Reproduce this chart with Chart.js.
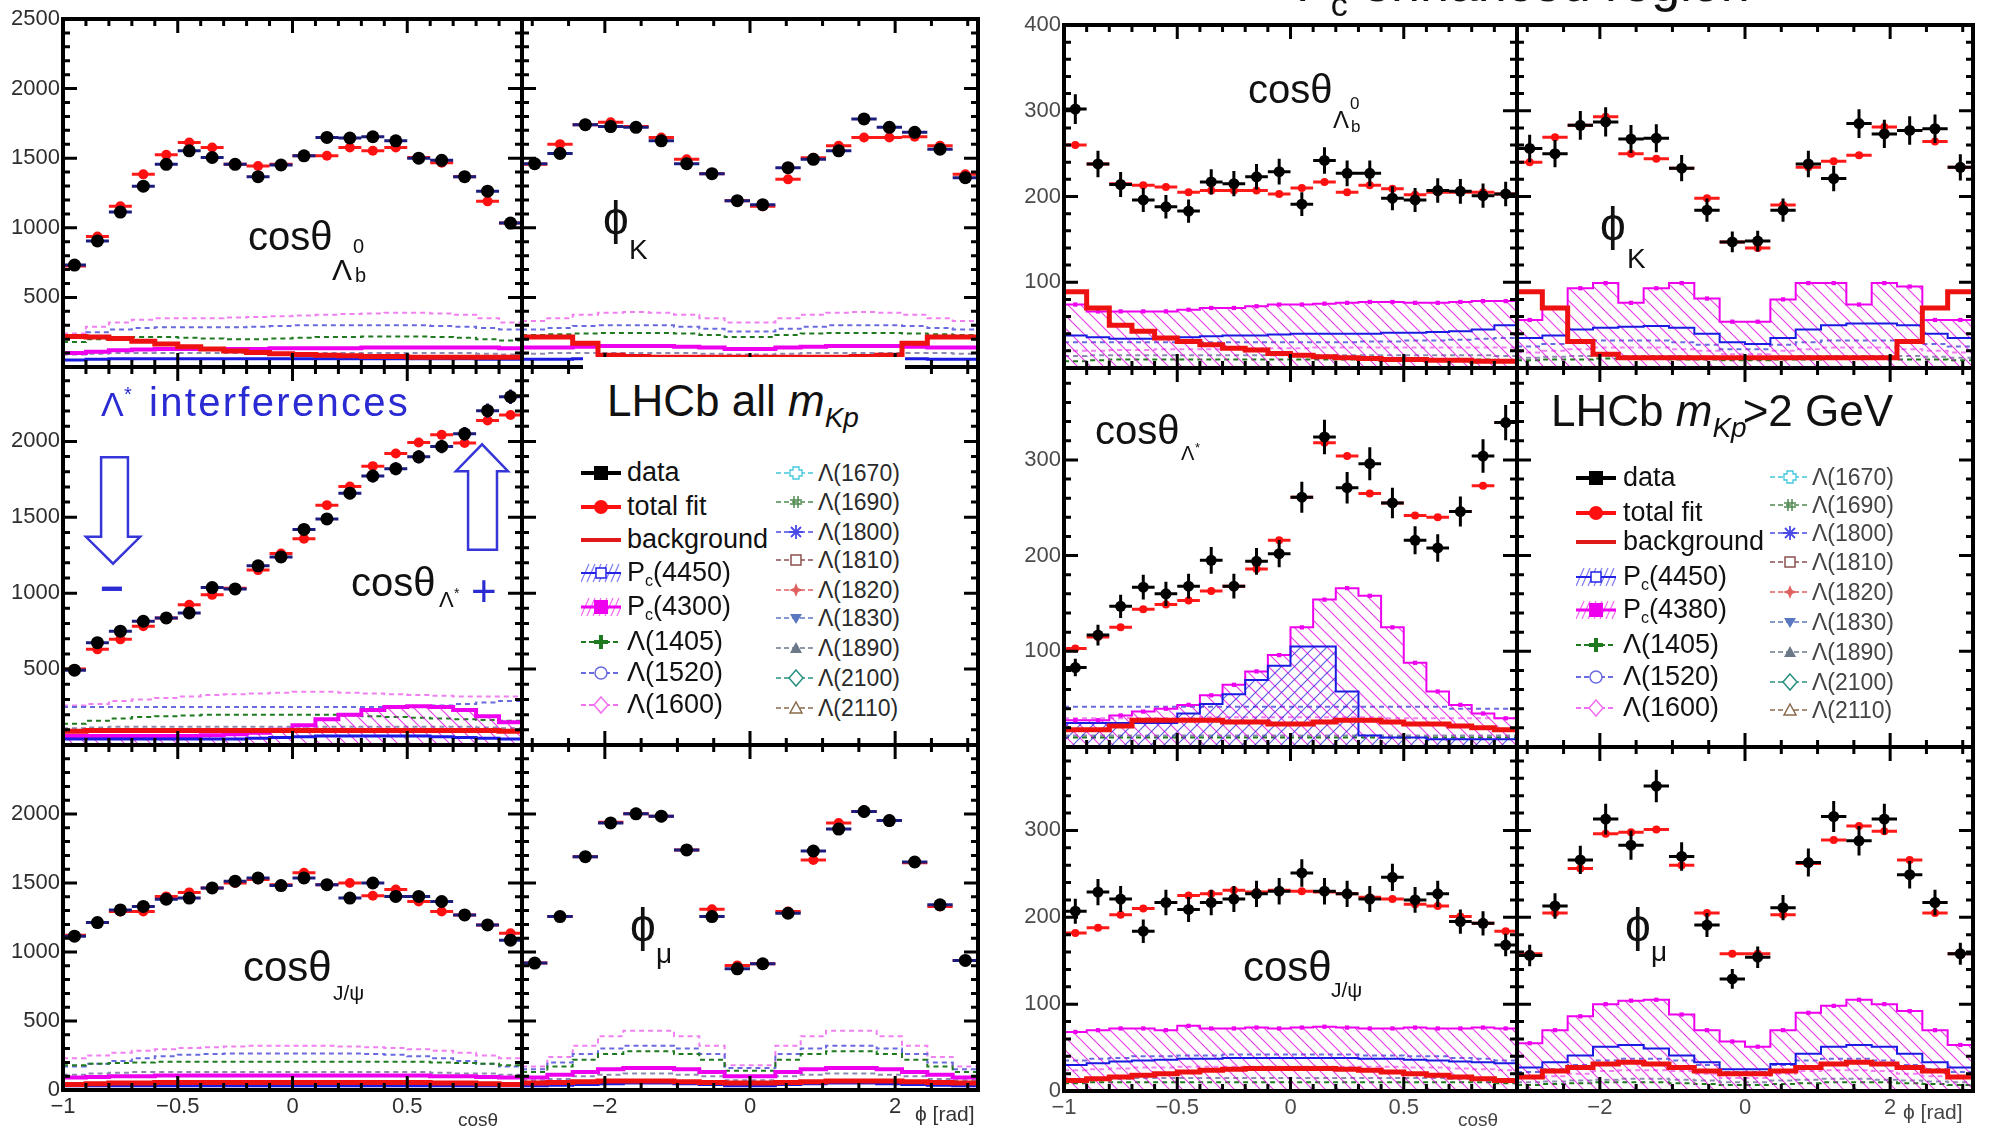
<!DOCTYPE html>
<html>
<head>
<meta charset="utf-8">
<script src="https://cdn.jsdelivr.net/npm/chart.js@4.4.0/dist/chart.umd.min.js"></script>
<style>
html, body { margin: 0; padding: 0; background: #fff; overflow: hidden; }
#fig { position: relative; width: 1993px; height: 1128px; overflow: hidden; background: #fff; }
#fig canvas { position: absolute; }
.t { position: absolute; line-height: 1; white-space: nowrap; font-family: 'Liberation Sans', Arial, 'DejaVu Sans', sans-serif; color: #111; }
.dn { position: relative; }
.box { position: absolute; background: #fff; }
</style>
</head>
<body>
<div id="fig"></div>
<script>
// bin centres and axis labels
const cosCenters = [-0.95,-0.85,-0.75,-0.65,-0.55,-0.45,-0.35,-0.25,-0.15,-0.05,0.05,0.15,0.25,0.35,0.45,0.55,0.65,0.75,0.85,0.95];
const phiCenters = [-2.967,-2.618,-2.269,-1.920,-1.571,-1.222,-0.873,-0.524,-0.175,0.175,0.524,0.873,1.222,1.571,1.920,2.269,2.618,2.967];
const cosLabels = [-1, -0.5, 0, 0.5];
const phiLabels = [-2, 0, 2];

// ---- LHCb all mKp ----
// cos theta Lambda_b
const allCosLbData   = [732,906,1113,1299,1456,1553,1505,1456,1367,1451,1517,1649,1645,1654,1625,1500,1485,1367,1263,1034];
const allCosLbFit    = [725,937,1154,1384,1524,1613,1577,1456,1444,1456,1517,1517,1577,1553,1577,1505,1468,1367,1190,1034];
const allCosLbBkg    = [220,215,205,185,165,145,130,115,105,95,90,85,80,75,75,70,70,70,70,70];
const allCosLbPc4450 = [50,55,60,60,60,60,60,60,60,60,60,60,60,60,60,60,60,60,55,55];
const allCosLbPc4300 = [100,110,120,125,130,130,130,130,130,135,135,135,135,140,140,140,140,140,140,135];
const allCosLbL1405  = [180,200,210,215,215,210,205,200,200,205,210,215,215,220,220,220,215,210,200,190];
const allCosLbL1520  = [220,250,270,280,285,285,285,285,290,295,300,300,300,300,300,300,295,290,280,270];
const allCosLbL1600  = [240,290,320,340,350,350,350,355,360,365,370,375,380,385,390,390,385,375,350,320];
const allCosLbLOther = [90,95,100,100,100,100,100,100,100,100,100,100,100,100,100,100,100,100,95,90];
// phi K
const allPhiKData   = [1461,1534,1741,1727,1722,1625,1461,1389,1195,1166,1432,1492,1553,1782,1722,1686,1565,1360];
const allPhiKFit    = [1456,1601,1741,1758,1727,1649,1492,1389,1195,1154,1348,1504,1589,1649,1649,1654,1589,1384];
const allPhiKBkg    = [215,215,170,85,75,70,70,70,70,70,70,70,70,75,85,170,215,215];
const allPhiKPc4450 = [55,55,60,60,60,60,60,55,50,50,55,60,60,60,60,60,55,55];
const allPhiKPc4300 = [140,140,145,150,150,150,145,140,130,130,140,145,150,150,150,145,140,140];
const allPhiKL1405  = [230,235,240,245,245,245,240,230,215,215,230,240,245,245,245,240,235,230];
const allPhiKL1520  = [270,280,295,300,300,300,290,275,255,255,275,290,300,300,300,295,280,270];
const allPhiKL1600  = [330,350,375,390,395,390,375,350,320,320,350,375,390,395,390,375,350,330];
const allPhiKLOther = [95,100,100,100,100,100,100,95,90,90,95,100,100,100,100,100,100,95];
// cos theta Lambda*
const allCosLsData   = [493,674,750,815,837,870,1037,1028,1180,1239,1420,1489,1659,1772,1820,1898,1967,2050,2202,2294];
const allCosLsFit    = [500,630,696,783,837,924,989,1033,1152,1261,1359,1580,1702,1837,1920,1993,2043,1989,2137,2174];
const allCosLsBkg    = [90,95,95,95,95,95,95,95,95,95,95,95,95,95,95,95,95,95,95,90];
const allCosLsPc4450 = [40,40,40,40,40,40,40,40,45,50,55,60,60,60,60,60,55,50,45,40];
const allCosLsPc4300 = [60,60,60,60,60,60,65,70,80,100,130,170,200,230,250,255,250,230,190,150];
const allCosLsL1405  = [140,160,175,185,190,195,200,200,200,200,200,200,195,190,185,180,175,170,165,160];
const allCosLsL1520  = [250,250,250,250,250,250,250,250,250,250,250,250,250,250,250,255,260,270,280,290];
const allCosLsL1600  = [260,270,290,300,310,320,330,335,340,345,350,350,345,340,335,330,325,320,320,320];
const allCosLsLOther = [110,115,120,120,120,120,120,120,120,120,120,120,120,120,120,120,120,120,115,110];
// cos theta J/psi
const allCosJData   = [1115,1213,1305,1330,1383,1391,1464,1513,1537,1481,1537,1488,1391,1500,1403,1403,1366,1269,1196,1086];
const allCosJFit    = [1122,1213,1293,1293,1403,1432,1464,1500,1525,1488,1574,1488,1500,1408,1452,1366,1293,1269,1196,1135];
const allCosJBkg    = [40,45,50,50,55,55,55,55,55,55,55,55,55,55,55,55,50,50,45,40];
const allCosJPc4450 = [30,30,30,30,30,30,30,30,30,30,30,30,30,30,30,30,30,30,30,30];
const allCosJPc4300 = [90,95,100,100,105,105,105,105,105,105,105,105,105,105,105,105,100,100,95,90];
const allCosJL1405  = [180,190,195,200,205,205,205,205,205,205,205,205,205,205,205,205,200,195,190,180];
const allCosJL1520  = [170,190,210,230,245,255,260,265,265,265,265,265,265,260,255,245,230,210,190,170];
const allCosJL1600  = [230,250,270,285,295,305,310,315,320,320,320,320,315,310,305,295,285,270,250,230];
const allCosJLOther = [110,120,125,130,130,130,130,130,130,130,130,130,130,130,130,130,125,120,120,110];
// phi mu
const allPhiMuData   = [920,1257,1691,1935,2001,1984,1740,1257,878,915,1281,1732,1891,2018,1952,1652,1342,939];
const allPhiMuFit    = [920,1257,1691,1940,2001,1984,1740,1310,903,915,1293,1667,1935,2018,1952,1647,1330,939];
const allPhiMuBkg    = [50,55,60,65,65,65,60,55,50,50,55,60,65,65,65,60,55,50];
const allPhiMuPc4450 = [30,35,40,45,50,50,45,40,30,30,40,45,50,50,45,40,35,30];
const allPhiMuPc4300 = [90,110,130,150,160,160,150,130,100,100,130,150,160,160,150,130,110,90];
const allPhiMuL1405  = [130,170,220,260,280,280,260,220,140,140,220,260,280,280,260,220,170,130];
const allPhiMuL1520  = [150,200,260,300,320,320,300,260,160,160,260,300,320,320,300,260,200,150];
const allPhiMuL1600  = [170,240,320,390,430,430,390,320,180,180,320,390,430,430,390,320,240,170];
const allPhiMuLOther = [70,80,100,110,120,120,110,100,70,70,100,110,120,120,110,100,80,70];

// ---- LHCb mKp > 2 GeV (Pc enhanced region) ----
const hiCosLbData   = [302,238,214,196,188,183,217,215,223,229,191,242,227,227,198,196,207,206,201,203];
const hiCosLbFit    = [260,238,215,213,211,205,207,207,207,203,210,217,205,213,209,202,205,205,205,203];
const hiCosLbBkg    = [89,70,50,43,35,31,27,23,21,17,15,13,12,11,10,10,9,9,8,8];
const hiCosLbPc4450 = [38,36,34,34,35,36,37,38,38,39,40,40,40,40,41,41,42,43,45,50];
const hiCosLbPc4380 = [74,66,66,66,66,68,70,70,72,74,74,75,76,77,77,76,76,77,78,78];
const hiCosLbL1405  = [8,9,10,10,10,10,10,10,10,10,10,10,10,10,10,10,10,10,10,9];
const hiCosLbL1520  = [30,30,30,30,30,30,30,30,30,30,30,30,30,31,31,32,32,33,34,35];
const hiCosLbL1600  = [20,20,21,21,22,22,22,23,23,23,23,24,24,24,24,24,24,24,24,24];
const hiCosLbLOther = [14,15,15,15,15,15,15,15,15,15,15,15,15,15,15,15,15,15,15,14];

const hiPhiKData   = [256,250,283,287,267,268,233,184,147,148,184,238,221,285,273,277,279,234];
const hiPhiKFit    = [240,269,283,293,250,244,233,198,147,140,190,234,241,248,281,277,264,234];
const hiPhiKBkg    = [89,70,31,16,12,12,12,12,12,12,12,12,12,12,12,31,70,89];
const hiPhiKPc4450 = [35,38,45,47,48,49,47,40,30,28,35,45,50,52,52,50,40,35];
const hiPhiKPc4380 = [56,70,93,99,76,93,99,81,54,54,80,99,99,74,99,95,56,56];
const hiPhiKL1405  = [9,10,10,11,11,11,10,10,9,9,10,10,11,11,11,10,10,9];
const hiPhiKL1520  = [25,28,30,32,32,32,30,27,22,22,27,30,32,32,32,30,28,25];
const hiPhiKL1600  = [18,20,22,24,24,24,22,20,16,16,20,22,24,24,24,22,20,18];
const hiPhiKLOther = [12,13,14,14,14,14,14,13,11,11,13,14,14,14,14,14,13,12];

const hiCosLsData   = [83,117,147,167,160,168,195,168,194,202,261,324,271,296,255,216,208,246,304,339];
const hiCosLsFit    = [103,115,125,144,149,153,163,168,186,216,261,318,304,265,255,242,240,246,273,339];
const hiCosLsBkg    = [18,18,22,28,28,28,28,26,26,24,24,26,28,28,26,24,24,22,20,18];
const hiCosLsPc4450 = [25,25,25,25,25,35,45,55,70,85,105,105,58,12,10,10,8,8,8,8];
const hiCosLsPc4380 = [28,28,33,37,40,44,54,65,79,96,125,154,166,158,125,88,58,44,35,30];
const hiCosLsL1405  = [10,10,10,10,10,10,10,10,10,10,10,10,10,10,10,10,10,10,10,10];
const hiCosLsL1520  = [42,42,42,42,42,42,42,42,42,42,42,42,42,42,42,42,42,40,40,40];
const hiCosLsL1600  = [30,30,30,30,30,30,31,31,31,31,31,31,31,31,30,30,30,30,30,30];
const hiCosLsLOther = [12,12,12,12,12,12,12,12,12,12,12,12,12,12,12,12,12,12,12,12];

const hiCosJData   = [207,229,221,184,217,209,217,221,227,230,251,230,227,221,246,220,227,195,193,168];
const hiCosJFit    = [182,188,203,210,217,225,227,231,229,231,230,229,227,223,221,215,213,201,193,184];
const hiCosJBkg    = [12,14,16,18,20,22,24,25,26,26,26,26,25,24,22,20,18,16,14,12];
const hiCosJPc4450 = [30,32,34,35,36,37,37,38,38,38,38,38,38,37,37,36,35,34,33,32];
const hiCosJPc4380 = [68,70,72,72,70,75,72,72,73,72,73,74,73,72,72,73,72,72,73,72];
const hiCosJL1405  = [9,10,10,10,10,10,10,10,10,10,10,10,10,10,10,10,10,10,10,9];
const hiCosJL1520  = [35,37,38,40,40,41,41,42,42,42,42,42,42,41,41,40,40,38,37,35];
const hiCosJL1600  = [24,25,26,27,27,28,28,28,28,28,28,28,28,28,28,27,27,26,25,24];
const hiCosJLOther = [13,14,14,15,15,15,15,15,15,15,15,15,15,15,15,15,15,14,14,13];

const hiPhiMuData   = [156,213,266,313,283,351,270,191,129,154,211,263,316,288,313,249,217,158];
const hiPhiMuFit    = [158,205,256,296,298,301,260,205,158,158,203,262,289,305,299,266,205,158];
const hiPhiMuBkg    = [16,23,27,31,33,31,27,23,20,20,23,27,31,33,31,27,23,16];
const hiPhiMuPc4450 = [27,33,41,51,53,49,41,33,25,25,31,43,51,53,51,43,33,27];
const hiPhiMuPc4380 = [55,70,86,100,104,105,88,70,57,51,70,90,98,105,100,92,70,53];
const hiPhiMuL1405  = [7,8,9,10,10,10,9,8,7,7,8,9,10,10,10,9,8,7];
const hiPhiMuL1520  = [22,25,30,35,37,37,35,30,22,22,30,35,37,37,35,30,25,22];
const hiPhiMuL1600  = [15,17,20,23,24,24,23,20,15,15,20,23,24,24,23,20,17,15];
const hiPhiMuLOther = [10,11,12,13,14,14,13,12,10,10,12,13,14,14,13,12,11,10];

const FONT = "'Liberation Sans', Arial, sans-serif";
const fig = document.getElementById('fig');
const L = 75, R = 20, T = 20, B = 38;

function makePattern(color, dir) {
    const p = document.createElement('canvas');
    p.width = p.height = 13;
    const g = p.getContext('2d');
    g.strokeStyle = color;
    g.lineWidth = 1.2;
    g.beginPath();
    if (dir > 0) {
        g.moveTo(0, 0); g.lineTo(13, 13);
        g.moveTo(-2, 11); g.lineTo(2, 15);
        g.moveTo(11, -2); g.lineTo(15, 2);
    } else {
        g.moveTo(0, 13); g.lineTo(13, 0);
        g.moveTo(-2, 2); g.lineTo(2, -2);
        g.moveTo(11, 15); g.lineTo(15, 11);
    }
    g.stroke();
    return g.createPattern(p, 'repeat');
}
const hatchMag = makePattern('rgba(225,0,225,0.75)', 1);
const hatchBlue = makePattern('rgba(40,40,220,0.75)', -1);

function fmt(v) {
    return v < 0 ? '\u2212' + Math.abs(v) : String(v);
}
function stepPts(centers, hw, vals) {
    const pts = centers.map((c, i) => ({ x: c - hw, y: vals[i] }));
    pts.push({ x: centers[centers.length - 1] + hw, y: vals[vals.length - 1] });
    return pts;
}
function ptPts(centers, vals) {
    return centers.map((c, i) => ({ x: c, y: vals[i] }));
}
function range(from, to, step) {
    const out = [];
    for (let v = from; v <= to + 1e-9; v += step) out.push(Math.round(v * 1000) / 1000);
    return out;
}

// frame with inward ticks on all four sides, ROOT style
const rootFrame = {
    id: 'rootFrame',
    afterDraw(chart) {
        const o = chart.canvas._extra;
        const { ctx, chartArea: a, scales: { x, y } } = chart;
        ctx.save();
        ctx.strokeStyle = '#000';
        ctx.lineWidth = 3;
        ctx.beginPath();
        const xt = (vals, len) => vals.forEach(v => {
            const p = x.getPixelForValue(v);
            ctx.moveTo(p, a.bottom); ctx.lineTo(p, a.bottom - len);
            ctx.moveTo(p, a.top); ctx.lineTo(p, a.top + len);
        });
        const yt = (vals, len) => vals.forEach(v => {
            const p = y.getPixelForValue(v);
            ctx.moveTo(a.left, p); ctx.lineTo(a.left + len, p);
            ctx.moveTo(a.right, p); ctx.lineTo(a.right - len, p);
        });
        xt(o.xMinor, 7); xt(o.xMajor, 14);
        yt(o.yMinor, 7); yt(o.yMajor, 14);
        ctx.stroke();
        ctx.lineWidth = 4;
        ctx.strokeRect(a.left, a.top, a.right - a.left, a.bottom - a.top);
        ctx.restore();
    }
};

// bin-width bars and statistical error bars under the markers
const errBars = {
    id: 'errBars',
    beforeDatasetDraw(chart, args) {
        const ds = chart.data.datasets[args.index];
        if (!ds.hw) return;
        const { ctx, chartArea: a, scales: { x, y } } = chart;
        ctx.save();
        ctx.beginPath();
        ctx.rect(a.left, a.top, a.right - a.left, a.bottom - a.top);
        ctx.clip();
        ctx.strokeStyle = ds.barColor;
        ctx.lineWidth = ds.barWidth;
        ctx.beginPath();
        args.meta.data.forEach((pt, i) => {
            const raw = ds.data[i];
            ctx.moveTo(x.getPixelForValue(raw.x - ds.hw), pt.y);
            ctx.lineTo(x.getPixelForValue(raw.x + ds.hw), pt.y);
            if (ds.vErr) {
                const e = Math.sqrt(raw.y);
                ctx.moveTo(pt.x, y.getPixelForValue(raw.y - e));
                ctx.lineTo(pt.x, y.getPixelForValue(raw.y + e));
            }
        });
        ctx.stroke();
        ctx.restore();
    }
};

// hollow arrows (interference sketch)
const arrowsPlugin = {
    id: 'arrowsPlugin',
    afterDatasetsDraw(chart) {
        const shapes = chart.canvas._extra.arrows;
        if (!shapes) return;
        const { ctx, scales: { x, y } } = chart;
        ctx.save();
        ctx.strokeStyle = '#3535d8';
        ctx.lineWidth = 2.5;
        shapes.forEach(s => {
            ctx.beginPath();
            s.forEach(([vx, vy], i) => {
                const px = x.getPixelForValue(vx), py = y.getPixelForValue(vy);
                if (i) ctx.lineTo(px, py); else ctx.moveTo(px, py);
            });
            ctx.closePath();
            ctx.stroke();
        });
        ctx.restore();
    }
};

function buildSets(kind, s, hi) {
    const cen = kind === 'cos' ? cosCenters : phiCenters;
    const hw = kind === 'cos' ? 0.05 : Math.PI / 18;
    const dashed = (label, vals, color, order) => ({
        label, data: stepPts(cen, hw, vals), stepped: true, borderColor: color,
        borderWidth: 2, borderDash: [5, 4], pointRadius: 0, fill: false, order
    });
    const sets = [
        { label: 'data', data: ptPts(cen, s.data), showLine: false, pointRadius: hi ? 5.5 : 6.5,
          pointBackgroundColor: '#000', pointBorderWidth: 0, hw, barColor: hi ? '#000' : '#1c1c7c',
          barWidth: 3, vErr: true, order: 0 },
        { label: 'total fit', data: ptPts(cen, s.fit), showLine: false, pointRadius: hi ? 4 : 5,
          pointBackgroundColor: '#ff1010', pointBorderWidth: 0, hw, barColor: '#ff1a1a', barWidth: 3, order: 1 },
        { label: 'background', data: stepPts(cen, hw, s.bkg), stepped: true, borderColor: '#ee1111',
          borderWidth: 5, pointRadius: 0, fill: false, order: 2 },
        { label: 'Pc(4450)', data: stepPts(cen, hw, s.pc1), stepped: true, borderColor: '#1a1ae0',
          borderWidth: hi ? 2 : 3, pointRadius: 0, fill: s.hatch1 ? 'origin' : false,
          backgroundColor: s.hatch1 ? hatchBlue : 'rgba(0,0,0,0)', order: 4 },
        { label: 'Pc(4300)', data: stepPts(cen, hw, s.pc2), stepped: true, borderColor: '#ee00ee',
          borderWidth: hi ? 2 : 4, pointRadius: 0, fill: s.hatch2 ? 'origin' : false,
          backgroundColor: s.hatch2 ? hatchMag : 'rgba(0,0,0,0)', order: 5 },
        dashed('Λ(1405)', s.l1405, '#1f7a1f', 6),
        dashed('Λ(1520)', s.l1520, '#6a6ae0', 7),
        dashed('Λ(1600)', s.l1600, '#f080f0', 8),
        dashed('Λ others', s.lo, '#8a8ab0', 9)
    ];
    if (hi) {
        sets.push({ label: 'Pc markers', data: ptPts(cen, s.pc2), showLine: false, pointRadius: 3,
            pointStyle: 'rect', pointBackgroundColor: '#ee00ee', pointBorderWidth: 0, order: 3 });
    }
    return sets;
}

function panel(frame, cfg) {
    const [x0, y0, x1, y1] = frame;
    const c = document.createElement('canvas');
    c.width = x1 - x0 + L + R;
    c.height = y1 - y0 + T + B;
    c.style.left = (x0 - L) + 'px';
    c.style.top = (y0 - T) + 'px';
    fig.appendChild(c);
    const cos = cfg.kind === 'cos';
    const hi = cfg.hi;
    c._extra = {
        xMajor: cos ? [-0.5, 0, 0.5] : [-2, 0, 2],
        xMinor: cos ? range(-0.9, 0.9, 0.1) : range(-3, 3, 0.5),
        yMajor: hi ? range(100, cfg.yMax, 100) : range(500, cfg.yMax, 500),
        yMinor: hi ? range(20, cfg.yMax, 20) : range(100, cfg.yMax, 100),
        arrows: cfg.arrows
    };
    const tickColor = hi ? '#4a4a4a' : '#2e2e2e';
    return new Chart(c, {
        type: 'line',
        data: { datasets: cfg.series ? buildSets(cfg.kind, cfg.series, hi) : [] },
        options: {
            responsive: false, animation: false, devicePixelRatio: 1, events: [],
            layout: { autoPadding: false, padding: { top: T, right: R, left: 0, bottom: 0 } },
            plugins: { legend: { display: false }, tooltip: { enabled: false } },
            scales: {
                x: {
                    type: 'linear', min: cos ? -1 : -Math.PI, max: cos ? 1 : Math.PI,
                    grid: { display: false, drawTicks: false }, border: { display: false },
                    afterFit: s => { s.height = B; },
                    afterBuildTicks: s => { s.ticks = (cfg.xLabels || []).map(v => ({ value: v })); },
                    ticks: { display: !!cfg.xLabels, autoSkip: false, maxRotation: 0, padding: 4,
                             color: tickColor, font: { family: FONT, size: 22 }, callback: v => fmt(v) }
                },
                y: {
                    type: 'linear', min: 0, max: cfg.yMax,
                    grid: { display: false, drawTicks: false }, border: { display: false },
                    afterFit: s => { s.width = L; },
                    afterBuildTicks: s => { s.ticks = (cfg.yLabels || []).map(v => ({ value: v })); },
                    ticks: { display: !!cfg.yLabels, autoSkip: false, padding: 3,
                             color: tickColor, font: { family: FONT, size: 22 }, callback: v => fmt(v) }
                }
            }
        },
        plugins: [errBars, arrowsPlugin, rootFrame]
    });
}

// ---- left block: LHCb all mKp ----
panel([63, 19, 522, 367], { kind: 'cos', yMax: 2500, yLabels: [500, 1000, 1500, 2000, 2500],
    series: { data: allCosLbData, fit: allCosLbFit, bkg: allCosLbBkg, pc1: allCosLbPc4450, pc2: allCosLbPc4300,
              l1405: allCosLbL1405, l1520: allCosLbL1520, l1600: allCosLbL1600, lo: allCosLbLOther } });
panel([522, 19, 978, 367], { kind: 'phi', yMax: 2500,
    series: { data: allPhiKData, fit: allPhiKFit, bkg: allPhiKBkg, pc1: allPhiKPc4450, pc2: allPhiKPc4300,
              l1405: allPhiKL1405, l1520: allPhiKL1520, l1600: allPhiKL1600, lo: allPhiKLOther } });
panel([63, 367, 522, 745], { kind: 'cos', yMax: 2490, yLabels: [500, 1000, 1500, 2000],
    series: { data: allCosLsData, fit: allCosLsFit, bkg: allCosLsBkg, pc1: allCosLsPc4450, pc2: allCosLsPc4300,
              l1405: allCosLsL1405, l1520: allCosLsL1520, l1600: allCosLsL1600, lo: allCosLsLOther, hatch2: true },
    arrows: [
        [[-0.834, 1896], [-0.717, 1896], [-0.717, 1371], [-0.664, 1371], [-0.782, 1194], [-0.900, 1371], [-0.834, 1371]],
        [[0.765, 1286], [0.891, 1286], [0.891, 1804], [0.939, 1804], [0.826, 1981], [0.712, 1804], [0.765, 1804]]
    ] });
panel([522, 367, 978, 745], { kind: 'phi', yMax: 2490 });
panel([63, 745, 522, 1090], { kind: 'cos', yMax: 2500, yLabels: [0, 500, 1000, 1500, 2000], xLabels: cosLabels,
    series: { data: allCosJData, fit: allCosJFit, bkg: allCosJBkg, pc1: allCosJPc4450, pc2: allCosJPc4300,
              l1405: allCosJL1405, l1520: allCosJL1520, l1600: allCosJL1600, lo: allCosJLOther } });
panel([522, 745, 978, 1090], { kind: 'phi', yMax: 2500, xLabels: phiLabels,
    series: { data: allPhiMuData, fit: allPhiMuFit, bkg: allPhiMuBkg, pc1: allPhiMuPc4450, pc2: allPhiMuPc4300,
              l1405: allPhiMuL1405, l1520: allPhiMuL1520, l1600: allPhiMuL1600, lo: allPhiMuLOther } });

// ---- right block: mKp > 2 GeV ----
panel([1064, 25, 1517, 368], { kind: 'cos', hi: true, yMax: 400, yLabels: [100, 200, 300, 400],
    series: { data: hiCosLbData, fit: hiCosLbFit, bkg: hiCosLbBkg, pc1: hiCosLbPc4450, pc2: hiCosLbPc4380,
              l1405: hiCosLbL1405, l1520: hiCosLbL1520, l1600: hiCosLbL1600, lo: hiCosLbLOther, hatch2: true } });
panel([1517, 25, 1973, 368], { kind: 'phi', hi: true, yMax: 400,
    series: { data: hiPhiKData, fit: hiPhiKFit, bkg: hiPhiKBkg, pc1: hiPhiKPc4450, pc2: hiPhiKPc4380,
              l1405: hiPhiKL1405, l1520: hiPhiKL1520, l1600: hiPhiKL1600, lo: hiPhiKLOther, hatch2: true } });
panel([1064, 368, 1517, 747], { kind: 'cos', hi: true, yMax: 396, yLabels: [100, 200, 300],
    series: { data: hiCosLsData, fit: hiCosLsFit, bkg: hiCosLsBkg, pc1: hiCosLsPc4450, pc2: hiCosLsPc4380,
              l1405: hiCosLsL1405, l1520: hiCosLsL1520, l1600: hiCosLsL1600, lo: hiCosLsLOther, hatch1: true, hatch2: true } });
panel([1517, 368, 1973, 747], { kind: 'phi', hi: true, yMax: 396 });
panel([1064, 747, 1517, 1091], { kind: 'cos', hi: true, yMax: 396, yLabels: [0, 100, 200, 300], xLabels: cosLabels,
    series: { data: hiCosJData, fit: hiCosJFit, bkg: hiCosJBkg, pc1: hiCosJPc4450, pc2: hiCosJPc4380,
              l1405: hiCosJL1405, l1520: hiCosJL1520, l1600: hiCosJL1600, lo: hiCosJLOther, hatch2: true } });
panel([1517, 747, 1973, 1091], { kind: 'phi', hi: true, yMax: 396, xLabels: phiLabels,
    series: { data: hiPhiMuData, fit: hiPhiMuFit, bkg: hiPhiMuBkg, pc1: hiPhiMuPc4450, pc2: hiPhiMuPc4380,
              l1405: hiPhiMuL1405, l1520: hiPhiMuL1520, l1600: hiPhiMuL1600, lo: hiPhiMuLOther, hatch2: true } });

// ---- text ----
function txt(html, x, base, size, o = {}) {
    const d = document.createElement('div');
    d.className = 't';
    d.innerHTML = html;
    d.style.left = x + 'px';
    d.style.top = (base - 0.8465 * size) + 'px';
    d.style.fontSize = size + 'px';
    if (o.color) d.style.color = o.color;
    if (o.ls) d.style.letterSpacing = o.ls + 'px';
    if (o.bold) d.style.fontWeight = 'bold';
    fig.appendChild(d);
}

// white legend box that hides the frame top in the left block
const lbox = document.createElement('div');
lbox.className = 'box';
Object.assign(lbox.style, { left: '583px', top: '357px', width: '322px', height: '366px' });
fig.appendChild(lbox);

const BLUE = '#2b2bd4';
const PHI = '\u03D5';
txt('P<span class="dn" style="font-size:34px;top:15px">c</span> enhanced region', 1296, 1, 52);

// panel labels, left block
txt('cosθ', 248, 250, 40); txt('Λ', 332, 280, 30); txt('0', 353, 253, 20); txt('b', 355, 282, 20);
txt(PHI, 603, 234, 46); txt('K', 629, 260, 28);
txt('Λ', 101, 416, 34, { color: BLUE }); txt('*', 124, 401, 20, { color: BLUE });
txt('interferences', 149, 416, 40, { color: BLUE, ls: 2.3 });
txt('\u2212', 100, 602, 40, { color: BLUE, bold: true });
txt('cosθ', 351, 596, 40); txt('Λ', 439, 608, 22); txt('*', 454, 598, 14);
txt('+', 471, 606, 44, { color: BLUE });
txt('cosθ', 243, 982, 42); txt('J/ψ', 333, 1000, 21);
txt(PHI, 630, 941, 46); txt('μ', 656, 964, 28);
txt('cosθ', 458, 1126, 19, { color: '#333' });
txt(PHI + ' [rad]', 915, 1121, 21, { color: '#333' });

// panel labels, right block
txt('cosθ', 1248, 103, 40); txt('Λ', 1333, 128, 24); txt('0', 1350, 109, 17); txt('b', 1351, 132, 17);
txt(PHI, 1600, 240, 46); txt('K', 1627, 269, 28);
txt('cosθ', 1095, 444, 40); txt('Λ', 1181, 460, 20); txt('*', 1195, 452, 13);
txt('cosθ', 1243, 982, 42); txt('J/ψ', 1331, 997, 21);
txt(PHI, 1625, 941, 46); txt('μ', 1651, 962, 28);
txt('cosθ', 1458, 1126, 19, { color: '#444' });
txt(PHI + ' [rad]', 1903, 1119, 21, { color: '#444' });

// legend titles
txt('LHCb all <i>m</i><span class="dn" style="font-size:28px;top:11px"><i>Kp</i></span>', 607, 416, 44);
txt('LHCb <i>m</i><span class="dn" style="font-size:28px;top:11px"><i>Kp</i></span><span style="margin-left:-4px">&gt;2 GeV</span>', 1551, 426, 44);

// legend markers
function mark(x, yc, col, dash, mk, lw, hatch) {
    let s = `<svg width="40" height="24" viewBox="0 0 40 24" style="position:absolute;left:${x}px;top:${yc - 12}px">`;
    if (hatch) {
        for (let i = 0; i < 7; i++) s += `<line x1="${i * 6}" y1="21" x2="${i * 6 + 8}" y2="3" stroke="${col}" stroke-width="1.2" opacity="0.6"/>`;
    }
    s += `<line x1="0" y1="12" x2="40" y2="12" stroke="${col}" stroke-width="${lw}"${dash ? ' stroke-dasharray="5 3"' : ''}/>`;
    const shapes = {
        square: `<rect x="13" y="5" width="14" height="14" fill="${col}"/>`,
        circle: `<circle cx="20" cy="12" r="7" fill="${col}"/>`,
        osquare: `<rect x="15" y="7" width="10" height="10" fill="#fff" stroke="${col}" stroke-width="1.5"/>`,
        plus: `<path d="M13 12H27M20 5V19" stroke="${col}" stroke-width="4"/>`,
        ocircle: `<circle cx="20" cy="12" r="6" fill="#fff" stroke="${col}" stroke-width="1.5"/>`,
        odiamond: `<path d="M20 4L27 12L20 20L13 12Z" fill="#fff" stroke="${col}" stroke-width="1.5"/>`,
        ocross: `<path d="M17 6H23V9H26V15H23V18H17V15H14V9H17Z" fill="#fff" stroke="${col}" stroke-width="1.3"/>`,
        dcross: `<path d="M14 10H26M14 14H26M18 6V18M22 6V18" stroke="${col}" stroke-width="1.5"/>`,
        star: `<path d="M13 12H27M20 5V19M15 7L25 17M25 7L15 17" stroke="${col}" stroke-width="1.8"/>`,
        fstar: `<path d="M20 5L22 10L27 12L22 14L20 19L18 14L13 12L18 10Z" fill="${col}"/>`,
        tdown: `<path d="M14 8H26L20 18Z" fill="${col}"/>`,
        tup: `<path d="M20 6L26 17H14Z" fill="${col}"/>`,
        otri: `<path d="M20 6L26 17H14Z" fill="#fff" stroke="${col}" stroke-width="1.5"/>`
    };
    if (shapes[mk]) s += shapes[mk];
    fig.insertAdjacentHTML('beforeend', s + '</svg>');
}
const PCSUB = '<span class="dn" style="font-size:16px;top:5px">c</span>';
const legLeftCol = [
    ['data', '#000', false, 'square', 4, false],
    ['total fit', '#ff1010', false, 'circle', 4, false],
    ['background', '#e01818', false, 'none', 4, false],
    ['P' + PCSUB + '(4450)', '#2222e6', false, 'osquare', 2, true],
    ['P' + PCSUB + '(4300)', '#ee00ee', false, 'square', 3, true],
    ['Λ(1405)', '#1f7a1f', true, 'plus', 2, false],
    ['Λ(1520)', '#6a6ae0', true, 'ocircle', 2, false],
    ['Λ(1600)', '#f070f0', true, 'odiamond', 2, false]
];
const legRightCol = [
    ['Λ(1670)', '#40c8dc', true, 'ocross'],
    ['Λ(1690)', '#4f8a4f', true, 'dcross'],
    ['Λ(1800)', '#4a4ae6', true, 'star'],
    ['Λ(1810)', '#8a5050', true, 'osquare'],
    ['Λ(1820)', '#e06060', true, 'fstar'],
    ['Λ(1830)', '#5a78c0', true, 'tdown'],
    ['Λ(1890)', '#6a7888', true, 'tup'],
    ['Λ(2100)', '#2a9080', true, 'odiamond'],
    ['Λ(2110)', '#8a6a4a', true, 'otri']
];
function legend(leftX, leftText, leftRows, rightX, rightText, rightRows, pcName, txtColR) {
    legLeftCol.forEach((e, i) => {
        mark(leftX, leftRows[i], e[1], e[2], e[3], e[4], e[5]);
        const label = i === 4 ? 'P' + PCSUB + pcName : e[0];
        txt(label, leftText, leftRows[i] + 9, 27);
    });
    legRightCol.forEach((e, i) => {
        mark(rightX, rightRows[i], e[1], e[2], e[3], 1.6, false);
        txt(e[0], rightText, rightRows[i] + 8, 23, { color: txtColR });
    });
}
legend(581, 627, [473, 507, 540, 573, 607, 642, 673, 705],
       776, 818, [473, 502, 532, 560, 590, 618, 648, 678, 708], '(4300)', '#2a2a2a');
legend(1576, 1623, [478, 513, 542, 577, 610, 645, 677, 708],
       1770, 1812, [477, 505, 533, 562, 592, 622, 652, 682, 710], '(4380)', '#444');
</script>
</body>
</html>
